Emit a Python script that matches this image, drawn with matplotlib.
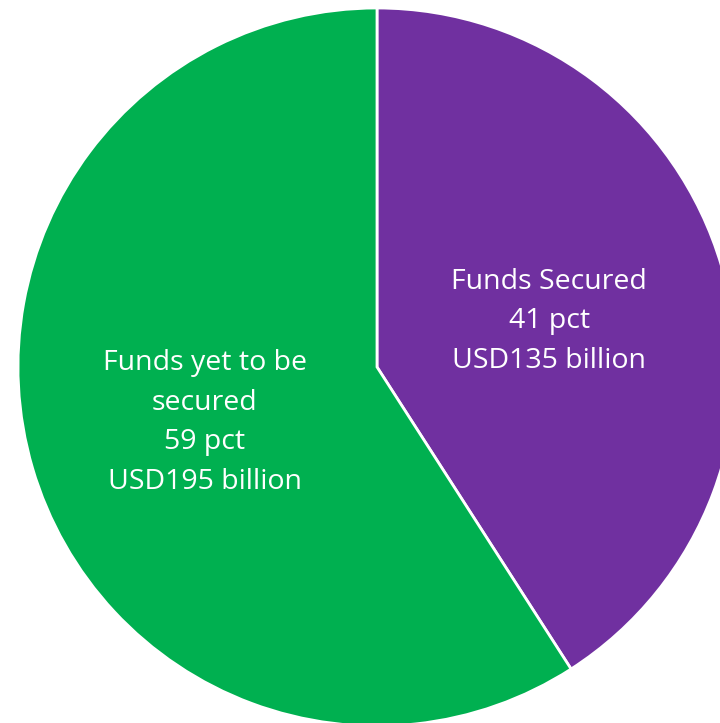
import matplotlib
matplotlib.use("Agg")
import matplotlib.pyplot as plt
import matplotlib.transforms as mtransforms

# funding split, USD billion
labels = ["Funds Secured", "Funds yet to be\nsecured"]
amounts = [135, 195]
percents = [41, 59]
colors = ["#7030A0", "#00B050"]

W, H = 720, 723
fig = plt.figure(figsize=(W / 100, H / 100), dpi=100)

# pie centre and radius in pixels; the disc runs off the right and bottom edges
cx, cy, r = 377, 367, 359
ax = fig.add_axes([(cx - r) / W, (H - cy - r) / H, 2 * r / W, 2 * r / H])

texts = [f"{lab}\n{p} pct\nUSD{a} billion" for lab, p, a in zip(labels, percents, amounts)]
wedges, lbls = ax.pie(amounts, labels=texts, colors=colors, startangle=90,
                      counterclock=False, labeldistance=0.5,
                      wedgeprops=dict(edgecolor="white", linewidth=2),
                      textprops=dict(color="white", fontsize=20.5, family="Open Sans"))

# nudge the labels a few pixels down
shift = mtransforms.ScaledTranslation(0, -0.05, fig.dpi_scale_trans)
for t in lbls:
    t.set_ha("center")
    t.set_va("center")
    t.set_multialignment("center")
    t.set_linespacing(1.55)
    t.set_transform(t.get_transform() + shift)

ax.set_xlim(-1, 1)
ax.set_ylim(-1, 1)
ax.set_aspect("equal")
ax.axis("off")

fig.savefig("out.png", dpi=100)
